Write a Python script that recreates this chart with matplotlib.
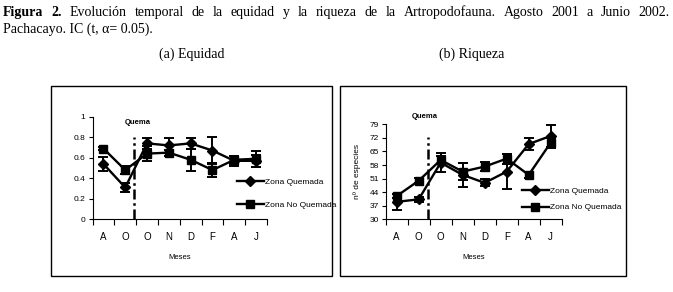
import numpy as np
import matplotlib
matplotlib.use("Agg")
import matplotlib.pyplot as plt
from matplotlib.patches import Rectangle

meses = ["A", "O", "O", "N", "D", "F", "A", "J"]

# Equidad
eq_quemada = [0.54, 0.31, 0.74, 0.72, 0.74, 0.67, 0.57, 0.57]
eq_quemada_err = [0.07, 0.045, 0.05, 0.07, 0.05, 0.13, 0.05, 0.06]
eq_noquemada = [0.69, 0.48, 0.64, 0.65, 0.58, 0.48, 0.58, 0.59]
eq_noquemada_err = [0.01, 0.04, 0.07, 0.03, 0.11, 0.065, 0.04, 0.08]

# Riqueza
ri_quemada = [39.0, 40.3, 59.2, 52.9, 48.8, 54.6, 68.8, 73.0]
ri_quemada_err = [4.3, 1.3, 5.0, 6.0, 1.8, 9.0, 3.2, 5.8]
ri_noquemada = [42.0, 49.9, 60.6, 54.6, 57.2, 61.3, 52.9, 69.5]
ri_noquemada_err = [1.2, 1.2, 2.0, 4.5, 2.5, 2.6, 1.5, 2.5]

caption_bold = "Figura 2."
caption_1 = "Evolución temporal de la equidad y la riqueza de la Artropodofauna. Agosto 2001 a Junio 2002."
caption_2 = "Pachacayo. IC (t, α= 0.05)."

W, H = 673, 292
fig = plt.figure(figsize=(W / 100, H / 100), dpi=100)
fig.patch.set_facecolor("white")

def fx(px):
    return px / W

def fy(py):
    return 1 - py / H

serif = "Liberation Serif"
sans = "Liberation Sans"
cap_size = 10

# first caption line is justified between x=3 and x=670
renderer = fig.canvas.get_renderer()
words = [(w, "bold") for w in caption_bold.split()] + [(w, "normal") for w in caption_1.split()]
texts = []
for w, wt in words:
    t = fig.text(0, fy(16), w, family=serif, weight=wt, fontsize=cap_size, va="baseline", ha="left")
    texts.append(t)
widths = [t.get_window_extent(renderer).width for t in texts]
gap = (667 - sum(widths)) / (len(words) - 1)
xpos = 3
for t, wd in zip(texts, widths):
    t.set_x(fx(xpos))
    xpos += wd + gap

fig.text(fx(3), fy(33), caption_2, family=serif, fontsize=cap_size, va="baseline", ha="left")
fig.text(fx(192), fy(58), "(a) Equidad", family=serif, fontsize=cap_size, va="baseline", ha="center")
fig.text(fx(472), fy(58), "(b) Riqueza", family=serif, fontsize=cap_size, va="baseline", ha="center")

# frames around each chart
for x0, x1 in [(51, 332), (340, 626)]:
    fig.patches.append(Rectangle((fx(x0), fy(276)), fx(x1 - x0), (276 - 86) / H,
                                 transform=fig.transFigure, fill=False, lw=1.0, ec="black"))

x = np.arange(len(meses))

def draw(ax, q, qe, nq, nqe, ylim, yticks, ytl, quema_top, qx, qy, legx, legy, lspace):
    ax.errorbar(x, q, yerr=qe, fmt="none", ecolor="black",
                capsize=3.5, elinewidth=1.4, capthick=1.4)
    ax.errorbar(x, nq, yerr=nqe, fmt="none", ecolor="black",
                capsize=3.5, elinewidth=1.4, capthick=1.4)
    ax.plot(x, q, color="black", lw=1.7, marker="D", ms=5.5, label="Zona Quemada")
    ax.plot(x, nq, color="black", lw=1.7, marker="s", ms=5.5, label="Zona No Quemada")
    ax.plot([1.42, 1.42], [ylim[0], quema_top], color="black", lw=1.8, ls=(0, (4, 1.5, 1, 1.5)))
    ax.set_xlim(-0.5, len(meses) - 0.5)
    ax.set_ylim(*ylim)
    ax.set_yticks(yticks)
    ax.set_yticklabels(ytl, family=sans, fontsize=6)
    ax.set_xticks(x)
    ax.set_xticklabels(meses, family=sans, fontsize=7)
    ax.set_xticks(np.arange(-0.5, len(meses)), minor=True)
    ax.tick_params(axis="x", which="major", length=0, pad=9)
    ax.tick_params(axis="x", which="minor", length=4, direction="out", width=0.8)
    ax.tick_params(axis="y", length=3, direction="out", width=0.8, pad=2)
    for s in ["top", "right"]:
        ax.spines[s].set_visible(False)
    for s in ["left", "bottom"]:
        ax.spines[s].set_linewidth(0.8)
    ax.set_xlabel("Meses", family=sans, fontsize=5.5, labelpad=9)
    ax.patch.set_alpha(0)
    fig.text(fx(qx), fy(qy), "Quema", family=sans, weight="bold", fontsize=5.5, ha="left", va="center")
    ax.legend(loc="upper left", bbox_to_anchor=(fx(legx), fy(legy)), bbox_transform=fig.transFigure,
              frameon=False, prop={"family": sans, "size": 6}, handlelength=3.2, handletextpad=0.1,
              labelspacing=lspace, borderaxespad=0, borderpad=0)

axL = fig.add_axes([fx(92.5), fy(219.3), fx(267 - 92.5), (219.3 - 116.7) / H])
draw(axL, eq_quemada, eq_quemada_err, eq_noquemada, eq_noquemada_err,
     (0, 1), [0, 0.2, 0.4, 0.6, 0.8, 1], ["0", "0.2", "0.4", "0.6", "0.8", "1"],
     0.8, 125, 123, 237, 178.5, 1.8)

axR = fig.add_axes([fx(385.7), fy(219.3), fx(561.7 - 385.7), (219.3 - 124.3) / H])
ticksR = [30, 37, 44, 51, 58, 65, 72, 79]
draw(axR, ri_quemada, ri_quemada_err, ri_noquemada, ri_noquemada_err,
     (30, 79), ticksR, [str(t) for t in ticksR],
     72.5, 412, 117, 522, 187.5, 1.0)
axR.set_ylabel("nº de especies", family=sans, fontsize=6, labelpad=6)

fig.savefig("out.png", dpi=100, facecolor="white")
